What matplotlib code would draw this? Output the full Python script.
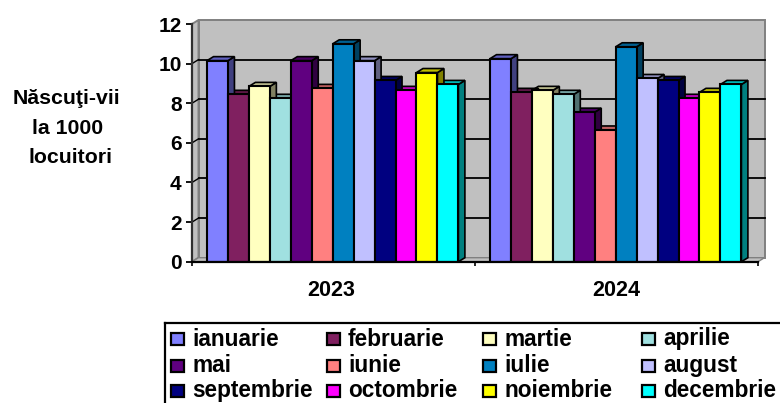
import matplotlib
matplotlib.use('Agg')
import matplotlib.pyplot as plt
from matplotlib.patches import Polygon, Rectangle

plt.rcParams['font.family'] = ['Liberation Sans', 'DejaVu Sans']
plt.rcParams['font.weight'] = 'bold'

# Data
years = ['2023', '2024']
months = ['ianuarie', 'februarie', 'martie', 'aprilie', 'mai', 'iunie', 'iulie',
          'august', 'septembrie', 'octombrie', 'noiembrie', 'decembrie']
values_2023 = [10.15, 8.45, 8.85, 8.25, 10.15, 8.75, 11.0, 10.15, 9.15, 8.65, 9.55, 8.95]
values_2024 = [10.25, 8.55, 8.65, 8.45, 7.55, 6.65, 10.85, 9.25, 9.15, 8.25, 8.55, 8.95]
colors = ['#8080FF', '#802060', '#FFFFC0', '#A0E0E0', '#600080', '#FF8080',
          '#0080C0', '#C0C0FF', '#000080', '#FF00FF', '#FFFF00', '#00FFFF']
y_ticks = [0, 2, 4, 6, 8, 10, 12]

W, H = 780, 403
fig = plt.figure(figsize=(W / 100, H / 100), dpi=100)

# main axes, placed by pixels of the front plane
left, right, bottom, top = 192, 758, 261.7, 24
ax = fig.add_axes([left / W, 1 - bottom / H, (right - left) / W, (bottom - top) / H])
ax.set_xlim(0, 2)
ax.set_ylim(0, 12)
ax.patch.set_visible(False)

# depth of the fake 3d, in data units
dx = 2 / (right - left) * 6.5
dy = 12 / (bottom - top) * 4


def shade(c, f):
    r, g, b = matplotlib.colors.to_rgb(c)
    return (r * f, g * f, b * f)


# back wall, side wall, floor
wall = '#C0C0C0'
edge = '#808080'
ax.add_patch(Rectangle((dx, dy), 2, 12, fc=wall, ec=edge, lw=1.4, zorder=1, clip_on=False))
ax.add_patch(Polygon([(0, 0), (dx, dy), (dx, 12 + dy), (0, 12)], fc=wall, ec=edge, lw=1.4,
                     zorder=1, clip_on=False))
ax.add_patch(Polygon([(0, 0), (2, 0), (2 + dx, dy), (dx, dy)], fc=wall, ec=edge, lw=1,
                     zorder=1, clip_on=False))

# gridlines on the walls
for t in y_ticks[1:-1]:
    ax.plot([dx, 2 + dx], [t + dy, t + dy], color='black', lw=1.3, zorder=2, clip_on=False)
    ax.plot([0, dx], [t, t + dy], color='black', lw=1, zorder=2, clip_on=False)

# bars
bar_w = 20.95 / 283.0
start = 0.053
for g, vals in enumerate([values_2023, values_2024]):
    for j in range(len(months) - 1, -1, -1):
        x0 = g + start + j * bar_w
        x1 = x0 + bar_w
        v = vals[j]
        ax.add_patch(Polygon([(x1, 0), (x1 + dx, dy), (x1 + dx, v + dy), (x1, v)],
                             fc=shade(colors[j], 0.5), ec='black', lw=1.2, zorder=3, clip_on=False))
        ax.add_patch(Polygon([(x0, v), (x1, v), (x1 + dx, v + dy), (x0 + dx, v + dy)],
                             fc=shade(colors[j], 0.75), ec='black', lw=1.2, zorder=3, clip_on=False))
    ax.bar([g + start + j * bar_w for j in range(len(months))], vals, width=bar_w, align='edge',
           color=colors, edgecolor='black', lw=1.5, zorder=4)

# axes lines and ticks
for s in ['top', 'right']:
    ax.spines[s].set_visible(False)
for s in ['left', 'bottom']:
    ax.spines[s].set_linewidth(1.6)
    ax.spines[s].set_zorder(5)
ax.spines['left'].set_color('#303030')
ax.set_yticks(y_ticks)
ax.tick_params(axis='y', length=4.5, width=1.3, labelsize=15, pad=3)
ax.set_xticks([0, 1, 2])
ax.set_xticklabels([])
ax.tick_params(axis='x', length=3, width=1.2)
ax.set_xticks([0.493, 1.498], minor=True)
ax.set_xticklabels(years, minor=True, fontsize=15.5)
ax.tick_params(axis='x', which='minor', length=0, pad=13)

for label_x, label_y, line in zip([66, 67.5, 71], [98, 128, 158], ['Născuţi-vii', 'la 1000', 'locuitori']):
    fig.text(label_x / W, 1 - label_y / H, line, ha='center', va='center', fontsize=15.3)

# legend box, cut off by the figure on the right and bottom
lg = fig.add_axes([0, 0, 1, 1])
lg.set_xlim(0, W)
lg.set_ylim(H, 0)
lg.axis('off')
lg.patch.set_visible(False)
lg.plot([165, 165], [323, H], color='black', lw=1.6)
lg.plot([165, W], [323, 323], color='black', lw=1.6)
col_x = [171, 327, 483, 642]
row_y = [339, 365.5, 390.5]
for j, m in enumerate(months):
    c = col_x[j % 4]
    r = row_y[j // 4]
    lg.add_patch(Rectangle((c, r - 6), 12.5, 12, fc=colors[j], ec='black', lw=1.6))
    lg.text(c + 21, r, m, fontsize=16.3, va='center', ha='left')

fig.savefig('out.png', dpi=100)
